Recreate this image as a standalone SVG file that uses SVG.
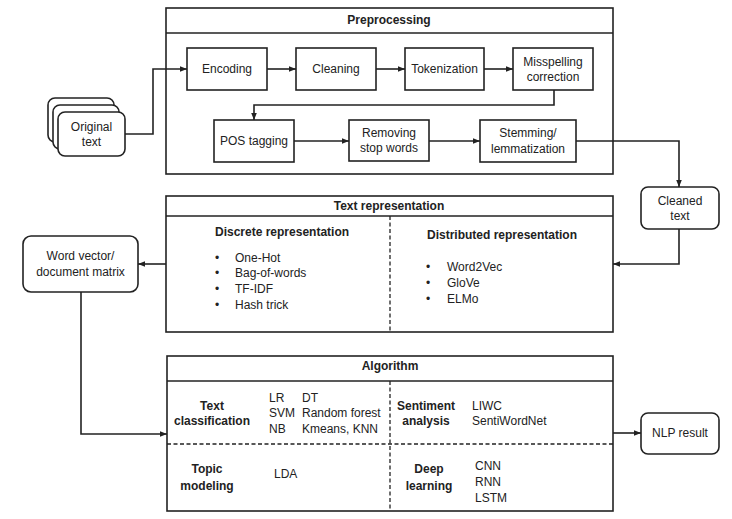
<svg xmlns="http://www.w3.org/2000/svg" width="732" height="519" viewBox="0 0 732 519">
<style>
.b{fill:#fff;stroke:#222;stroke-width:1.6}
.c{fill:none;stroke:#222;stroke-width:1.6}
.d{fill:none;stroke:#222;stroke-width:1.3;stroke-dasharray:4,2.5}
text{font-family:"Liberation Sans",Arial,sans-serif;font-size:12px;fill:#222}
.t{font-weight:bold;text-anchor:middle}
.h{font-weight:bold}
.m{text-anchor:middle}
</style>
<defs>
<marker id="a" viewBox="0 0 10 10" refX="10" refY="5" markerWidth="7" markerHeight="7" markerUnits="userSpaceOnUse" orient="auto"><path d="M0,1L10,5L0,9z" fill="#222"/></marker>
</defs>
<rect width="732" height="519" fill="#fff"/>
<g id="preprocessing">
<rect class="b" x="166" y="8" width="447" height="166"/>
<line class="c" x1="166" y1="33" x2="613" y2="33"/>
<text class="t" x="389" y="24">Preprocessing</text>
</g>
<g id="encoding"><rect class="b" x="187" y="48" width="80" height="42"/><text class="m" x="227" y="73">Encoding</text></g>
<g id="cleaning"><rect class="b" x="296" y="48" width="80" height="42"/><text class="m" x="336" y="73">Cleaning</text></g>
<g id="tokenization"><rect class="b" x="405" y="48" width="79" height="42"/><text class="m" x="444.5" y="73">Tokenization</text></g>
<g id="misspelling"><rect class="b" x="513" y="48" width="80" height="42"/><text class="m" x="553" y="66">Misspelling</text><text class="m" x="553" y="81">correction</text></g>
<g id="pos"><rect class="b" x="214" y="120" width="80" height="42"/><text class="m" x="254" y="145">POS tagging</text></g>
<g id="stopwords"><rect class="b" x="349" y="120" width="80" height="41"/><text class="m" x="389" y="137">Removing</text><text class="m" x="389" y="152">stop words</text></g>
<g id="stemming"><rect class="b" x="480" y="120" width="96" height="42"/><text class="m" x="528" y="137">Stemming/</text><text class="m" x="528" y="153">lemmatization</text></g>
<g id="original">
<rect class="b" x="48" y="98" width="66" height="44" rx="7"/>
<rect class="b" x="53" y="105" width="66" height="44" rx="7"/>
<rect class="b" x="58" y="112" width="67" height="44" rx="7"/>
<text class="m" x="91.5" y="131">Original</text><text class="m" x="91.5" y="146">text</text>
</g>
<g id="cleaned"><rect class="b" x="641" y="187" width="78" height="42" rx="7"/><text class="m" x="680" y="205">Cleaned</text><text class="m" x="680" y="220">text</text></g>
<g id="textrep">
<rect class="b" x="166" y="196" width="447" height="136"/>
<line class="c" x1="166" y1="216" x2="613" y2="216"/>
<line class="d" x1="390" y1="216" x2="390" y2="332"/>
<text class="t" x="389" y="210">Text representation</text>
<text class="h" x="215" y="236">Discrete representation</text>
<text x="215" y="262">•</text><text x="235" y="262">One-Hot</text>
<text x="215" y="277">•</text><text x="235" y="277">Bag-of-words</text>
<text x="215" y="293">•</text><text x="235" y="293">TF-IDF</text>
<text x="215" y="309">•</text><text x="235" y="309">Hash trick</text>
<text class="h" x="427" y="239">Distributed representation</text>
<text x="426" y="271">•</text><text x="447" y="271">Word2Vec</text>
<text x="426" y="287">•</text><text x="447" y="287">GloVe</text>
<text x="426" y="303">•</text><text x="447" y="303">ELMo</text>
</g>
<g id="wordvector"><rect class="b" x="23" y="236" width="115" height="56" rx="8"/><text class="m" x="80.5" y="260">Word vector/</text><text class="m" x="80.5" y="276">document matrix</text></g>
<g id="algorithm">
<rect class="b" x="167" y="356" width="446" height="155"/>
<line class="c" x1="167" y1="381" x2="613" y2="381"/>
<line class="d" x1="167" y1="444" x2="613" y2="444"/>
<line class="d" x1="390" y1="381" x2="390" y2="511"/>
<text class="t" x="390" y="370">Algorithm</text>
<text class="t" x="212" y="410">Text</text><text class="t" x="212" y="425">classification</text>
<text x="269" y="402">LR</text><text x="269" y="417">SVM</text><text x="269" y="433">NB</text>
<text x="302" y="402">DT</text><text x="302" y="417">Random forest</text><text x="302" y="433">Kmeans, KNN</text>
<text class="t" x="426" y="410">Sentiment</text><text class="t" x="426" y="425">analysis</text>
<text x="472" y="410">LIWC</text><text x="472" y="425">SentiWordNet</text>
<text class="t" x="207" y="473">Topic</text><text class="t" x="207" y="490">modeling</text>
<text x="274" y="478">LDA</text>
<text class="t" x="429" y="473">Deep</text><text class="t" x="429" y="490">learning</text>
<text x="475" y="470">CNN</text><text x="475" y="486">RNN</text><text x="475" y="502">LSTM</text>
</g>
<g id="nlpresult"><rect class="b" x="641" y="413" width="78" height="41" rx="7"/><text class="m" x="680" y="437">NLP result</text></g>
<g id="connectors">
<polyline class="c" points="125,134 153,134 153,69 187,69" marker-end="url(#a)"/>
<line class="c" x1="267" y1="69" x2="296" y2="69" marker-end="url(#a)"/>
<line class="c" x1="376" y1="69" x2="405" y2="69" marker-end="url(#a)"/>
<line class="c" x1="484" y1="69" x2="513" y2="69" marker-end="url(#a)"/>
<polyline class="c" points="554,90 554,105 254,105 254,120" marker-end="url(#a)"/>
<line class="c" x1="294" y1="141" x2="349" y2="141" marker-end="url(#a)"/>
<line class="c" x1="429" y1="141" x2="480" y2="141" marker-end="url(#a)"/>
<polyline class="c" points="576,141 679,141 679,187" marker-end="url(#a)"/>
<polyline class="c" points="679,229 679,264 613,264" marker-end="url(#a)"/>
<line class="c" x1="166" y1="264" x2="138" y2="264" marker-end="url(#a)"/>
<polyline class="c" points="81,292 81,434 167,434" marker-end="url(#a)"/>
<line class="c" x1="613" y1="433" x2="641" y2="433" marker-end="url(#a)"/>
</g>
</svg>
